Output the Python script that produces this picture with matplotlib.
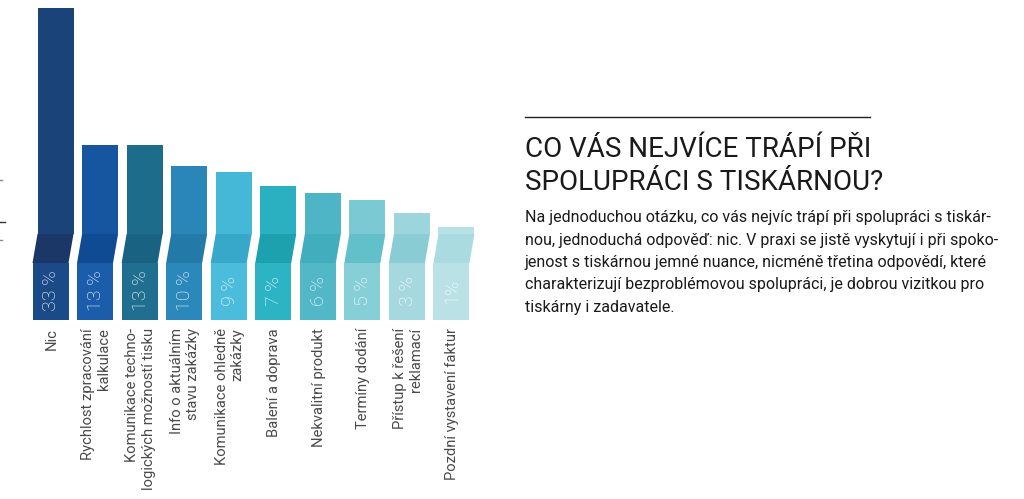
import matplotlib
matplotlib.use("Agg")
import matplotlib.pyplot as plt
from matplotlib.patches import Polygon, Rectangle
from matplotlib.lines import Line2D
import numpy as np

# data
categories = [
    "Nic",
    "Rychlost zpracování\nkalkulace",
    "Komunikace techno-\nlogických možností tisku",
    "Info o aktuálním\nstavu zakázky",
    "Komunikace ohledně\nzakázky",
    "Balení a doprava",
    "Nekvalitní produkt",
    "Termíny dodání",
    "Přístup k řešení\nreklamací",
    "Pozdní vystavení faktur",
]
values = [33, 13, 13, 10, 9, 7, 6, 5, 3, 1]
value_labels = ["33 %", "13 %", "13 %", "10 %", "9 %", "7 %", "6 %", "5 %", "3 %", "1%"]

# colours: upper bar, fold band, lower block
top_colors = ["#1a4479", "#1656a0", "#1e6c8c", "#2a85b8", "#45b8d8",
              "#2bb0c2", "#4db5c5", "#7bcad3", "#9dd5dc", "#b7e1e5"]
fold_colors = ["#1a3767", "#0f4b92", "#1a6282", "#237aa8", "#38a8ca",
               "#1ea1af", "#42adbc", "#62c0ca", "#89ccd4", "#aadbe0"]
low_colors = ["#1a4a88", "#1b5dab", "#216f90", "#2b88ba", "#4bbcdb",
              "#2cb3c4", "#52b8c7", "#86cfd7", "#a6d9df", "#bae2e6"]

title_lines = ["CO VÁS NEJVÍCE TRÁPÍ PŘI", "SPOLUPRÁCI S TISKÁRNOU?"]
body_lines = [
    "Na jednoduchou otázku, co vás nejvíc trápí při spolupráci s tiskár-",
    "nou, jednoduchá odpověď: nic. V praxi se jistě vyskytují i při spoko-",
    "jenost s tiskárnou jemné nuance, nicméně třetina odpovědí, které",
    "charakterizují bezproblémovou spolupráci, je dobrou vizitkou pro",
    "tiskárny i zadavatele.",
]

W, H = 1024, 499
fig = plt.figure(figsize=(W / 100, H / 100), dpi=100)
fig.patch.set_facecolor("white")

# bar area: pixel geometry of the reference
pitch = 44.55          # px per category
x0_px = 55.5           # centre of first bar
scale = 6.85           # px per percent
fold_px = 234          # fold line
area_w, area_h = 500, 330

ax = fig.add_axes([0, 1 - area_h / H, area_w / W, area_h / H])
ax.set_xlim(-x0_px / pitch, (area_w - x0_px) / pitch)
ax.set_ylim((fold_px - area_h) / scale, fold_px / scale)
ax.axis("off")

x = np.arange(len(values))
bw = 36 / pitch
shift = 5 / pitch
band = 29 / scale
bottom = (area_h - fold_px - 10) / scale

ax.bar(x, values, width=bw, color=top_colors, linewidth=0)
for i in x:
    xl = i - bw / 2
    ax.add_patch(Polygon([(xl, 0), (xl + bw, 0), (xl + bw - shift, -band), (xl - shift, -band)],
                         closed=True, facecolor=fold_colors[i], linewidth=0))
    ax.add_patch(Rectangle((xl - shift, -bottom), bw, bottom - band,
                           facecolor=low_colors[i], linewidth=0))
    ax.text(i - shift + 1 / pitch, -(band + bottom) / 2 + 0.1, value_labels[i], rotation=90,
            ha="center", va="center", color="white", fontsize=14,
            family="Roboto", fontweight="light")
    ax.text(i - shift + 1 / pitch, -bottom - 8 / scale, categories[i], rotation=90,
            ha="center", va="top", multialignment="right", color="#4a4a4a",
            fontsize=10.6, family="Roboto", linespacing=1.2,
            clip_on=False)

# small marks at the left edge
fig.add_artist(Line2D([0, 5 / W], [1 - 222 / H] * 2, color="#333333", lw=1))
fig.add_artist(Line2D([0, 2 / W], [1 - 180 / H] * 2, color="#888888", lw=1))
fig.add_artist(Line2D([0, 2 / W], [1 - 240 / H] * 2, color="#888888", lw=1))

# right-hand text block
tx = 525 / W
fig.add_artist(Line2D([tx, 870 / W], [1 - 117 / H] * 2, color="#222222", lw=1))
for k, line in enumerate(title_lines):
    fig.text(tx, 1 - (157 + 33 * k) / H, line, fontsize=20, family="Roboto",
             color="#1a1a1a", va="baseline", ha="left")
for k, line in enumerate(body_lines):
    fig.text(tx, 1 - (222 + 22.5 * k) / H, line, fontsize=11.5, family="Roboto",
             color="#1a1a1a", va="baseline", ha="left")

fig.savefig("out.png", dpi=100, facecolor="white")
